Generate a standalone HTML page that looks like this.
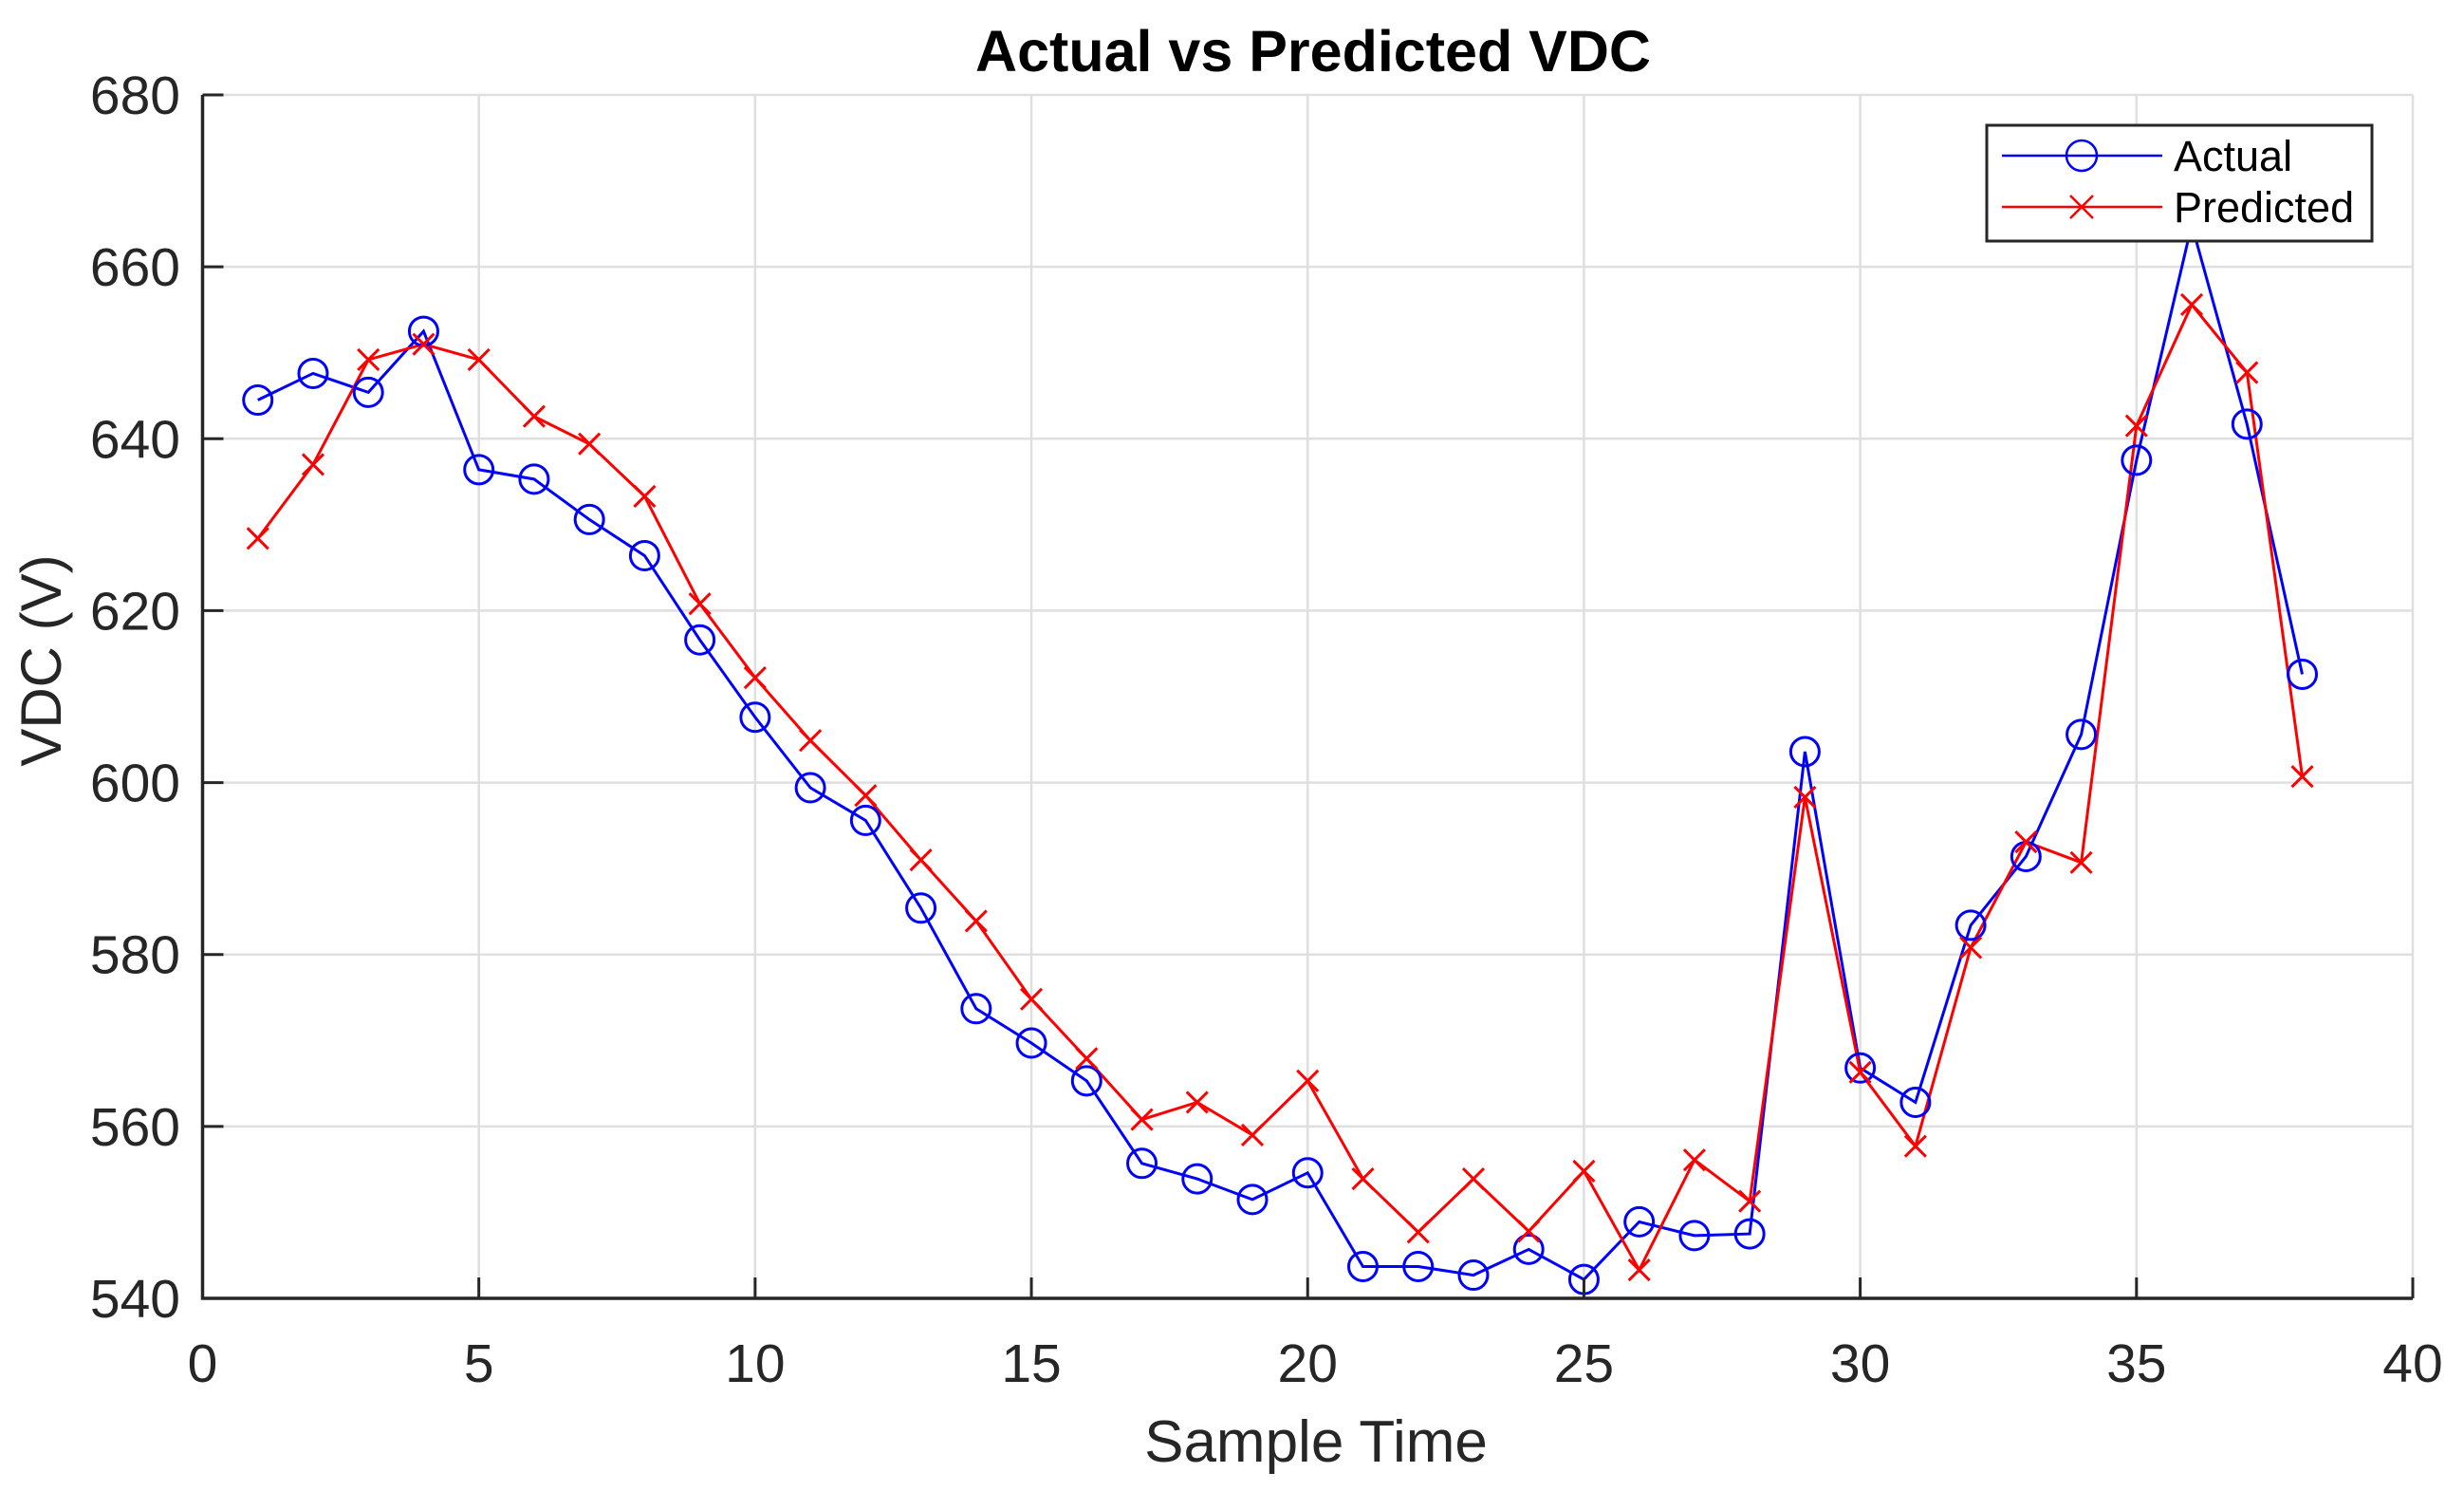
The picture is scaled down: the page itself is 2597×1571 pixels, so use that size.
<!DOCTYPE html>
<html><head><meta charset="utf-8"><style>
html,body{margin:0;padding:0;background:#fff;}
svg{display:block;font-family:"Liberation Sans",Arial,sans-serif;}
</style></head><body>
<svg id="chart" width="2597" height="1571" viewBox="0 0 2597 1571" xmlns="http://www.w3.org/2000/svg">
<rect width="2597" height="1571" fill="#fff"/>
<g id="grid"></g>
<g id="series"></g>
<g id="axes"></g>
<text x="1384" y="75" text-anchor="middle" font-size="61" font-weight="bold" fill="#000">Actual vs Predicted VDC</text>
<text x="1387" y="1540" text-anchor="middle" font-size="62" fill="#262626">Sample Time</text>
<text transform="translate(64,696) rotate(-90)" text-anchor="middle" font-size="60" fill="#262626">VDC (V)</text>
<g>
<rect x="2094" y="132" width="406" height="122" fill="#fff" stroke="#262626" stroke-width="3"/>
<g>
<line x1="2110" y1="164" x2="2279" y2="164" stroke="#0000ff" stroke-width="2.5"/>
<circle cx="2194" cy="164" r="16" fill="none" stroke="#0000ff" stroke-width="2.5"/>
<text x="2291" y="180" font-size="45" fill="#000">Actual</text>
</g>
<g>
<line x1="2110" y1="218" x2="2279" y2="218" stroke="#ff0000" stroke-width="2.5"/>
<path d="M2182 206 L2206 230 M2206 206 L2182 230" stroke="#ff0000" stroke-width="2.5"/>
<text x="2291" y="234" font-size="45" fill="#000">Predicted</text>
</g>
</g>
</svg>
<script>
const samples = [1,2,3,4,5,6,7,8,9,10,11,12,13,14,15,16,17,18,19,20,21,22,23,24,25,26,27,28,29,30,31,32,33,34,35,36,37,38];
const actual = [644.5,647.6,645.4,652.5,636.4,635.3,630.6,626.4,616.6,607.6,599.4,595.6,585.4,573.7,569.7,565.3,555.7,553.9,551.5,554.6,543.7,543.7,542.7,545.7,542.2,548.9,547.3,547.5,603.6,566.8,562.8,583.4,591.4,605.6,637.5,664.9,641.7,612.6];
const predicted = [628.4,637,649.2,651,649.2,642.6,639.4,633.3,620.8,612.2,604.9,598.5,591,583.9,574.8,567.9,560.8,562.8,559,565.3,553.9,547.7,553.9,547.8,554.8,543.3,556.1,551.3,598.3,566.3,557.7,580.8,593.1,590.7,641.5,655.6,647.7,600.7];
const xTicks = [0,5,10,15,20,25,30,35,40];
const yTicks = [540,560,580,600,620,640,660,680];

const L=213.5,R=2543,T=100,B=1368;
const xs = v => L + (v-0)/(40-0)*(R-L);
const ys = v => B - (v-540)/(680-540)*(B-T);
const NS="http://www.w3.org/2000/svg";
function mk(tag, attrs, parent){const e=document.createElementNS(NS,tag);for(const k in attrs)e.setAttribute(k,attrs[k]);parent.appendChild(e);return e;}
const grid=document.getElementById('grid'), axes=document.getElementById('axes'), ser=document.getElementById('series');

xTicks.forEach(t=>{
  const g=mk('line',{x1:xs(t),x2:xs(t),y1:T,y2:B,stroke:'#dfdfdf','stroke-width':2.5},grid);
  
  
  const tk=mk('line',{x1:xs(t),x2:xs(t),y1:B,y2:B-22,stroke:'#262626','stroke-width':3},axes);
  
  
  const lb=mk('text',{x:xs(t),y:1456,'text-anchor':'middle','font-size':57,fill:'#262626'},axes);
  lb.textContent=t;
  
  
});
yTicks.forEach(t=>{
  const g=mk('line',{x1:L,x2:R,y1:ys(t),y2:ys(t),stroke:'#dfdfdf','stroke-width':2.5},grid);
  
  
  const tk=mk('line',{x1:L,x2:L+22,y1:ys(t),y2:ys(t),stroke:'#262626','stroke-width':3},axes);
  
  
  const lb=mk('text',{x:190,y:ys(t)+20,'text-anchor':'end','font-size':57,fill:'#262626'},axes);
  lb.textContent=t;
  
  
});
const ax=mk('path',{d:`M${L} ${T} L${L} ${B} L${R} ${B}`,fill:'none',stroke:'#262626','stroke-width':3.5},axes);



const la=mk('polyline',{points:samples.map((s,i)=>xs(s)+','+ys(actual[i])).join(' '),fill:'none',stroke:'#0000ff','stroke-width':3},ser);


const lp=mk('polyline',{points:samples.map((s,i)=>xs(s)+','+ys(predicted[i])).join(' '),fill:'none',stroke:'#ff0000','stroke-width':3},ser);


samples.forEach((s,i)=>{
  const c=mk('circle',{cx:xs(s),cy:ys(actual[i]),r:15,fill:'none',stroke:'#0000ff','stroke-width':3},ser);
  
  
  const x=xs(s),y=ys(predicted[i]),d=11;
  const p=mk('path',{d:`M${x-d} ${y-d} L${x+d} ${y+d} M${x+d} ${y-d} L${x-d} ${y+d}`,stroke:'#ff0000','stroke-width':3},ser);
  
  
});
</script>
</body></html>
